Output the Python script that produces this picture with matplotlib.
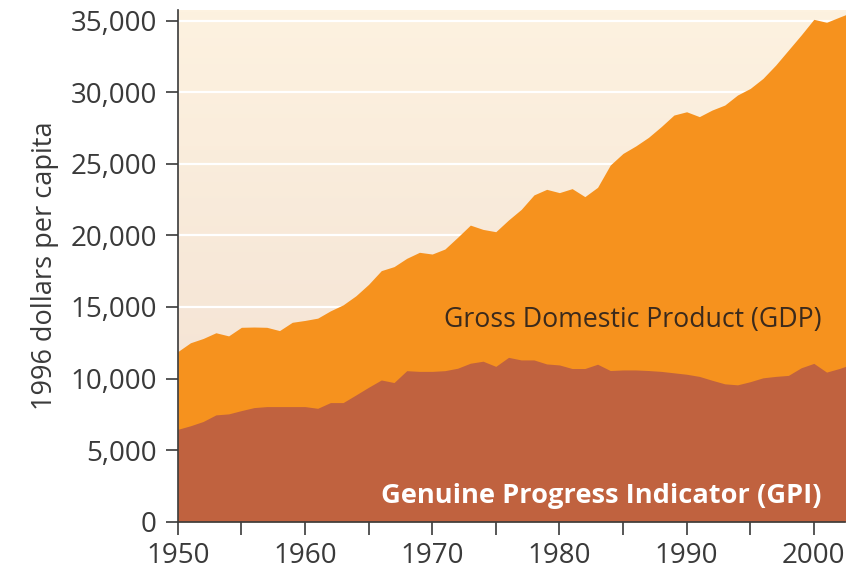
import matplotlib
matplotlib.use("Agg")
import matplotlib.pyplot as plt
import numpy as np
from matplotlib.colors import LinearSegmentedColormap
from matplotlib.ticker import FuncFormatter, MultipleLocator

# data (1996 dollars per capita)
years = list(range(1950, 2004))
gdp = [11880, 12500, 12800, 13200, 12980, 13580, 13600, 13580, 13350, 13930,
       14060, 14220, 14730, 15150, 15780, 16580, 17540, 17820, 18400, 18820,
       18700, 19050, 19870, 20720, 20420, 20260, 21080, 21820, 22830, 23220,
       22990, 23270, 22710, 23360, 24920, 25730, 26250, 26850, 27600, 28410,
       28640, 28300, 28760, 29110, 29810, 30270, 30970, 31900, 32950, 34000,
       35100, 34890, 35250, 35600]
gpi = [6450, 6700, 7000, 7460, 7530, 7760, 7970, 8040, 8040, 8040,
       8040, 7920, 8320, 8320, 8850, 9390, 9900, 9720, 10550, 10500,
       10500, 10550, 10720, 11070, 11210, 10850, 11480, 11300, 11300, 11020,
       10950, 10700, 10700, 11000, 10560, 10600, 10600, 10560, 10500, 10400,
       10300, 10150, 9880, 9630, 9560, 9780, 10050, 10150, 10220, 10750,
       11060, 10450, 10700, 11000]

gdp_color = "#F6921E"
gpi_color = "#C0623F"

plt.rcParams['font.family'] = ['Open Sans', 'DejaVu Sans']

fig = plt.figure(figsize=(8.57, 5.72), dpi=100)
ax = fig.add_axes([0.2074, 0.088, 0.7786, 0.8945])

# background gradient
bg = LinearSegmentedColormap.from_list("bg", ["#F2DFD1", "#FDF2E0"])
grad = np.linspace(0, 1, 256).reshape(-1, 1)
ax.imshow(grad, cmap=bg, origin="lower", aspect="auto",
          extent=[0, 1, 0, 1], transform=ax.transAxes, zorder=0)

for v in range(5000, 35001, 5000):
    ax.axhline(v, color="white", lw=1.6, zorder=1)

ax.fill_between(years, 0, gdp, color=gdp_color, lw=0, zorder=2)
ax.fill_between(years, 0, gpi, color=gpi_color, lw=0, zorder=3)

ax.set_xlim(1950, 2002.45)
ax.set_ylim(0, 35750)

ax.xaxis.set_major_locator(MultipleLocator(10))
ax.xaxis.set_minor_locator(MultipleLocator(5))
ax.yaxis.set_major_locator(MultipleLocator(5000))
ax.yaxis.set_major_formatter(FuncFormatter(lambda v, p: f"{int(v):,}"))

for s in ["top", "right"]:
    ax.spines[s].set_visible(False)
for s in ["left", "bottom"]:
    ax.spines[s].set_color("#3a3a3a")
    ax.spines[s].set_linewidth(1.2)
    ax.spines[s].set_zorder(5)

ax.tick_params(axis="both", which="both", direction="out", length=9,
               width=1.2, color="#3a3a3a", labelcolor="#3a3a3a",
               labelsize=20)
ax.tick_params(axis="x", pad=6)
ax.tick_params(axis="y", pad=6)

ax.set_ylabel("1996 dollars per capita", fontsize=19.5, color="#3a3a3a",
              labelpad=8)

ax.text(2000.6, 14100, "Gross Domestic Product (GDP)", ha="right",
        va="center", fontsize=19.2, color="#3b2a1c", zorder=6)
ax.text(2000.6, 1800, "Genuine Progress Indicator (GPI)", ha="right",
        va="center", fontsize=19.6, fontweight="bold", color="white",
        zorder=6)

fig.savefig("out.png", dpi=100)
